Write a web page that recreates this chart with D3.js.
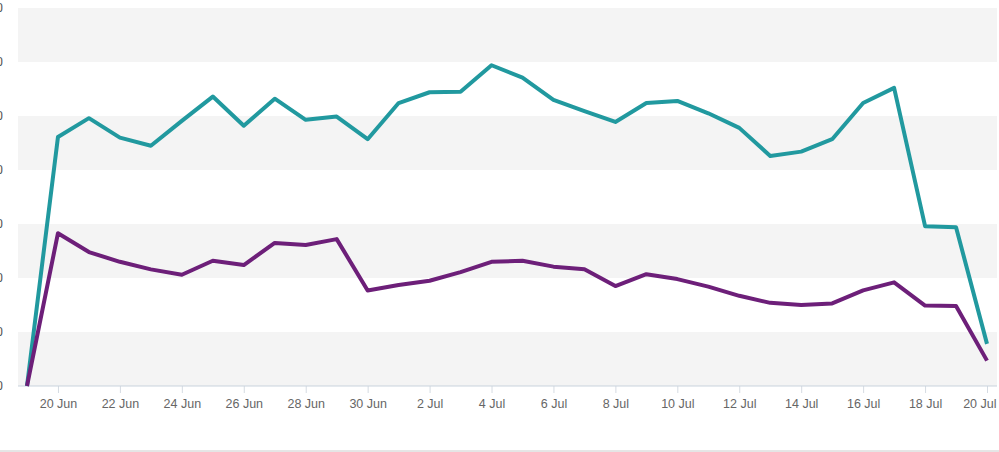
<!DOCTYPE html>
<html>
<head>
<meta charset="utf-8">
<script src="https://cdn.jsdelivr.net/npm/d3@7"></script>
<style>
  html, body { margin: 0; padding: 0; background: #fff; }
  svg { display: block; font-family: Roboto, "Noto Sans", sans-serif; }
  .tick text { fill: #666; font-size: 12.5px; }
  .yAxis text { fill: #555; font-size: 12.5px; }
</style>
</head>
<body>
<svg id="chart" width="999" height="452"></svg>
<script>
// one point per day, 19 Jun -> 20 Jul
var days = [
  "2020-06-19","2020-06-20","2020-06-21","2020-06-22","2020-06-23","2020-06-24","2020-06-25","2020-06-26",
  "2020-06-27","2020-06-28","2020-06-29","2020-06-30","2020-07-01","2020-07-02","2020-07-03","2020-07-04",
  "2020-07-05","2020-07-06","2020-07-07","2020-07-08","2020-07-09","2020-07-10","2020-07-11","2020-07-12",
  "2020-07-13","2020-07-14","2020-07-15","2020-07-16","2020-07-17","2020-07-18","2020-07-19","2020-07-20"
];
var tealValues = [
  0, 46.1, 49.6, 46.0, 44.5, 49.1, 53.6, 48.2, 53.2, 49.3, 49.9, 45.7, 52.4, 54.4, 54.5, 59.4,
  57.1, 53.0, 50.9, 48.9, 52.4, 52.8, 50.5, 47.8, 42.6, 43.4, 45.7, 52.4, 55.2, 29.6, 29.4, 7.8
];
var purpleValues = [
  0, 28.3, 24.8, 23.0, 21.6, 20.6, 23.2, 22.4, 26.5, 26.1, 27.2, 17.7, 18.7, 19.5, 21.1, 23.0,
  23.2, 22.1, 21.6, 18.5, 20.7, 19.8, 18.4, 16.7, 15.4, 15.0, 15.3, 17.7, 19.2, 14.9, 14.8, 4.7
];
var tickLabels = ["2020-06-20","2020-06-22","2020-06-24","2020-06-26","2020-06-28","2020-06-30",
  "2020-07-02","2020-07-04","2020-07-06","2020-07-08","2020-07-10","2020-07-12","2020-07-14",
  "2020-07-16","2020-07-18","2020-07-20"];
var yTicks = [0, 10, 20, 30, 40, 50, 60, 70];

var svg = d3.select("#chart"),
    plotLeft = 18, plotRight = 997,
    plotTop = 8, plotBottom = 386,
    parse = d3.timeParse("%Y-%m-%d"),
    dates = days.map(parse);

var x = d3.scaleTime()
    .domain([dates[0], dates[dates.length - 1]])
    .range([27, 987]);

var y = d3.scaleLinear()
    .domain([0, 70])
    .range([plotBottom, plotTop]);

// alternating bands
var bands = svg.append("g");
for (var i = 0; i < yTicks.length - 1; i++) {
    if (i % 2 === 0) {
        bands.append("rect")
            .attr("x", plotLeft)
            .attr("y", y(yTicks[i + 1]))
            .attr("width", plotRight - plotLeft)
            .attr("height", y(yTicks[i]) - y(yTicks[i + 1]))
            .attr("fill", "#f4f4f4");
    }
}

// y labels (clipped by the window edge, as in the original)
svg.append("g")
    .attr("class", "yAxis")
    .selectAll("text")
    .data(yTicks)
    .enter()
    .append("text")
    .attr("x", 3)
    .attr("y", function(d) { return y(d); })
    .attr("dy", ".35em")
    .attr("text-anchor", "end")
    .text(function(d) { return d; });

var xAxis = d3.axisBottom(x)
    .tickValues(tickLabels.map(parse))
    .tickFormat(d3.timeFormat("%-d %b"))
    .tickSizeInner(7)
    .tickSizeOuter(0)
    .tickPadding(6);

var gx = svg.append("g")
    .attr("transform", "translate(0," + plotBottom + ")")
    .call(xAxis);
gx.select(".domain").remove();
gx.selectAll(".tick line").attr("stroke", "#d5dbe2");
// keep the last label inside the window
gx.selectAll(".tick:last-of-type text")
    .attr("text-anchor", "end")
    .attr("x", 9);
gx.append("line")
    .attr("x1", plotLeft).attr("x2", plotRight)
    .attr("stroke", "#c9d3dd");

var line = d3.line()
    .x(function(d, i) { return x(dates[i]); })
    .y(function(d) { return y(d); });

svg.append("path")
    .datum(tealValues)
    .attr("fill", "none")
    .attr("stroke", "#21999f")
    .attr("stroke-width", 4)
    .attr("stroke-linejoin", "round")
    .attr("d", line);

svg.append("path")
    .datum(purpleValues)
    .attr("fill", "none")
    .attr("stroke", "#6d1f79")
    .attr("stroke-width", 4)
    .attr("stroke-linejoin", "round")
    .attr("d", line);

// bottom border
svg.append("line")
    .attr("x1", 0).attr("x2", 999)
    .attr("y1", 451).attr("y2", 451)
    .attr("stroke", "#ccc");
</script>
</body>
</html>
